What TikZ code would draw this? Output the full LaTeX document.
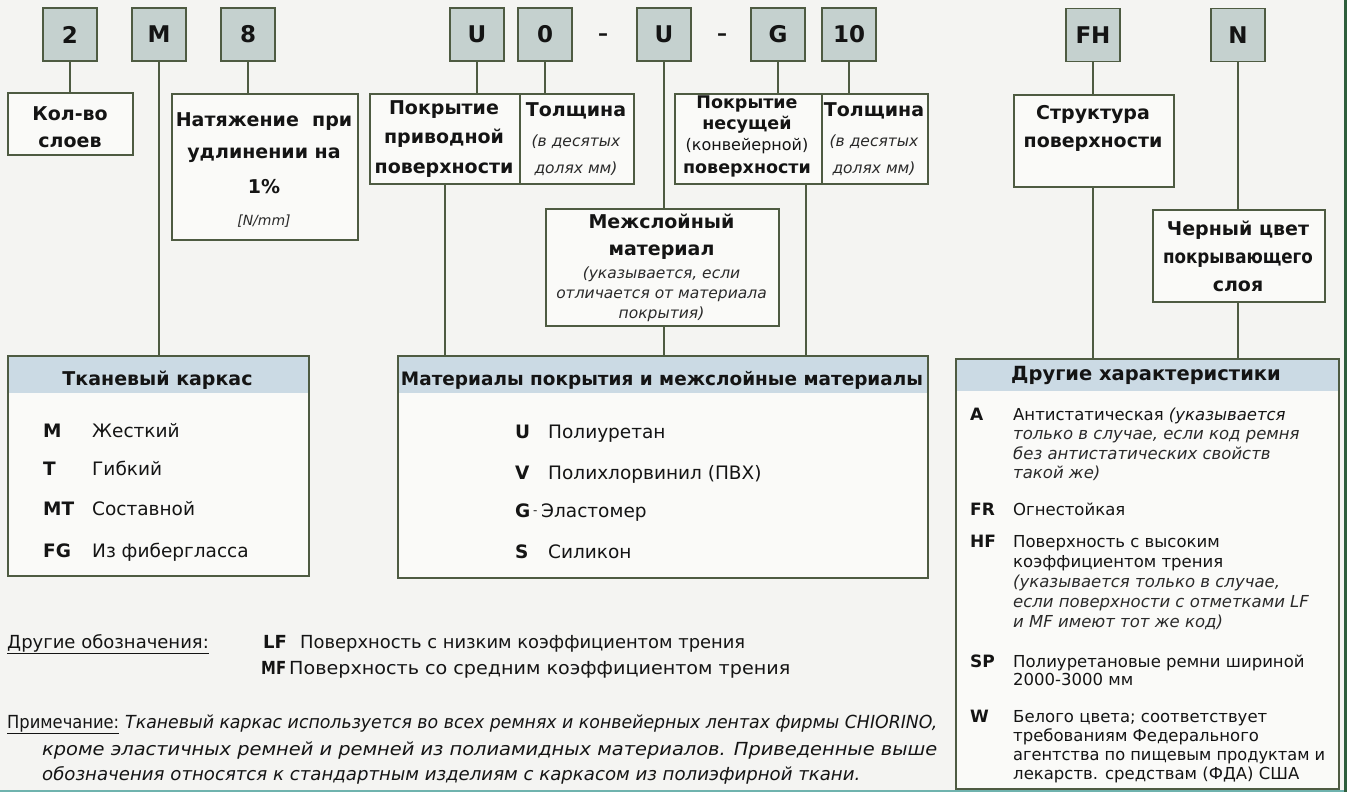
\documentclass[tikz,border=0pt]{standalone}
\usepackage{fontspec}
\setmainfont{DejaVu Sans}
\definecolor{bgc}{HTML}{F4F4F2}
\definecolor{boxc}{HTML}{FAFAF8}
\definecolor{codec}{HTML}{C5D1CF}
\definecolor{bordc}{HTML}{4E5B42}
\definecolor{hdrc}{HTML}{CBDAE4}
\definecolor{txtc}{HTML}{141414}
\definecolor{itc}{HTML}{2A2A2A}
\definecolor{framec}{HTML}{2E5E3C}
\definecolor{framebc}{HTML}{6FB3AE}
\newcommand\fs[2]{\fontsize{#1}{#2}\selectfont}
\newcommand\fitw[2]{\resizebox{#1}{\height}{#2}}
\begin{document}
\begin{tikzpicture}[x=1pt,y=-1pt,
  code/.style={draw=bordc, fill=codec, line width=1.5pt, minimum width=54pt, minimum height=53pt, inner sep=0pt, font=\bfseries\fs{23}{23}, text=txtc},
  box/.style={draw=bordc, fill=boxc, line width=1.5pt, inner sep=0pt, anchor=north west},
  hbox/.style={box, path picture={\fill[hdrc] (path picture bounding box.north west) rectangle ([yshift=-#1pt]path picture bounding box.north east);}},
  conn/.style={draw=bordc, line width=1.5pt},
  t/.style={inner sep=0pt, anchor=base, text=txtc},
  tl/.style={inner sep=0pt, anchor=base west, text=txtc},
  bt/.style={t, font=\bfseries\fs{19}{19}},
  it/.style={t, font=\itshape\fs{15.5}{15.5}, text=itc},
  dc/.style={tl, font=\bfseries\fs{17}{17}},
  dt/.style={tl, font=\fs{16.5}{16.5}},
  di/.style={tl, font=\itshape\fs{16.5}{16.5}, text=itc},
]
\path[use as bounding box, fill=bgc] (0,0) rectangle (1347,792);

% ---------- top code boxes
\node[code] (c2) at (70,34.5) {2};
\node[code] (cM) at (159,34.5) {M};
\node[code] (c8) at (248,34.5) {8};
\node[code] (cU1) at (477,34.5) {U};
\node[code] (c0) at (545,34.5) {0};
\node[t, font=\bfseries\fs{20}{20}] (d1) at (603,41) {–};
\node[code] (cU2) at (664,34.5) {U};
\node[t, font=\bfseries\fs{20}{20}] (d2) at (722,41) {–};
\node[code] (cG) at (778,34.5) {G};
\node[code] (c10) at (849,34.5) {10};
\node[code] (cFH) at (1093,35) {FH};
\node[code] (cN) at (1238,35) {N};

% ---------- second-row boxes
\node[box, minimum width=125pt, minimum height=62pt] (kol) at (7,92) {};
\node[box, minimum width=186pt, minimum height=146pt] (nat) at (171,93) {};
\node[box, minimum width=150pt, minimum height=90pt] (pokr1a) at (369,93) {};
\node[box, minimum width=114pt, minimum height=90pt] (pokr1b) at (519,93) {};
\node[box, minimum width=147pt, minimum height=90pt] (pokr2a) at (674,93) {};
\node[box, minimum width=106pt, minimum height=90pt] (pokr2b) at (821,93) {};
\node[box, minimum width=233pt, minimum height=117pt] (mezh) at (545,208) {};
\node[box, minimum width=160pt, minimum height=92pt] (str) at (1013,94) {};
\node[box, minimum width=172pt, minimum height=92pt] (cher) at (1152,209) {};

% ---------- lower boxes
\node[hbox=37, minimum width=301pt, minimum height=220pt] (tkan) at (7,355) {};
\node[hbox=37, minimum width=530pt, minimum height=222pt] (mat) at (397,355) {};
\node[hbox=32, minimum width=383pt, minimum height=430pt] (dr) at (955,358) {};

% ---------- connectors
\draw[conn] (c2.south) -- (c2.south |- kol.north);
\draw[conn] (cM.south) -- (cM.south |- tkan.north);
\draw[conn] (c8.south) -- (c8.south |- nat.north);
\draw[conn] (cU1.south) -- (cU1.south |- pokr1a.north);
\draw[conn] (c0.south) -- (c0.south |- pokr1b.north);
\draw[conn] (cU2.south) -- (cU2.south |- mezh.north);
\draw[conn] (cU2.south |- mezh.south) -- (cU2.south |- mat.north);
\draw[conn] (cG.south) -- (cG.south |- pokr2a.north);
\draw[conn] (c10.south) -- (c10.south |- pokr2b.north);
\draw[conn] (pokr1a.south) -- (pokr1a.south |- mat.north);
\draw[conn] ([xshift=132pt]pokr2a.south west) -- ([xshift=132pt]pokr2a.south west |- mat.north);
\draw[conn] (cFH.south) -- (cFH.south |- str.north);
\draw[conn] (cFH.south |- str.south) -- (cFH.south |- dr.north);
\draw[conn] (cN.south) -- (cN.south |- cher.north);
\draw[conn] (cN.south |- cher.south) -- (cN.south |- dr.north);

% ---------- box texts
\node[bt] (kol1) at (70,120) {Кол-во};
\node[bt] (kol2) at (70,147) {слоев};

\node[bt] (nat1) at (264,126) {Натяжение\ \ при};
\node[bt] (nat2) at (264,158) {удлинении на};
\node[bt] (nat3) at (264,193) {1\%};
\node[t, font=\itshape\fs{14}{14}, text=itc] (nat4) at (264,225) {[N/mm]};

\node[bt] (p1a1) at (444,114) {Покрытие};
\node[bt] (p1a2) at (444,143) {приводной};
\node[bt] (p1a3) at (444,173) {поверхности};
\node[bt] (p1b1) at (576,116) {Толщина};
\node[it] (p1b2) at (576,146) {(в десятых};
\node[it] (p1b3) at (576,173) {долях мм)};

\node[t, font=\bfseries\fs{17.5}{17.5}] (p2a1) at (747,108) {Покрытие};
\node[t, font=\bfseries\fs{17.5}{17.5}] (p2a2) at (747,129) {несущей};
\node[t, font=\fs{16}{16}] (p2a3) at (747,150) {(конвейерной)};
\node[t, font=\bfseries\fs{17.5}{17.5}] (p2a4) at (747,173) {поверхности};
\node[bt] (p2b1) at (874,116) {Толщина};
\node[it] (p2b2) at (874,146) {(в десятых};
\node[it] (p2b3) at (874,173) {долях мм)};

\node[bt] (mz1) at (661.5,228) {Межслойный};
\node[bt] (mz2) at (661.5,255) {материал};
\node[t, font=\itshape\fs{15.5}{15.5}, text=itc] (mz3) at (661.5,278) {(указывается, если};
\node[t, font=\itshape\fs{15.5}{15.5}, text=itc] (mz4) at (661.5,298) {отличается от материала};
\node[t, font=\itshape\fs{15.5}{15.5}, text=itc] (mz5) at (661.5,318) {покрытия)};

\node[bt] (st1) at (1093,119) {Структура};
\node[bt] (st2) at (1093,147) {поверхности};

\node[bt] (ch1) at (1238,235) {Черный цвет};
\node[bt] (ch2) at (1238,263) {\fitw{150pt}{покрывающего}};
\node[bt] (ch3) at (1238,291) {слоя};

% ---------- Тканевый каркас
\node[t, font=\bfseries\fs{19}{19}] (tkh) at (157.5,385) {Тканевый каркас};
\node[tl, font=\bfseries\fs{18.5}{18.5}] (tk1c) at (43,437) {M};
\node[tl, font=\fs{18.5}{18.5}] (tk1t) at (92,437) {Жесткий};
\node[tl, font=\bfseries\fs{18.5}{18.5}] (tk2c) at (43,475) {T};
\node[tl, font=\fs{18.5}{18.5}] (tk2t) at (92,475) {Гибкий};
\node[tl, font=\bfseries\fs{18.5}{18.5}] (tk3c) at (43,515) {MT};
\node[tl, font=\fs{18.5}{18.5}] (tk3t) at (92,515) {Составной};
\node[tl, font=\bfseries\fs{18.5}{18.5}] (tk4c) at (43,557) {FG};
\node[tl, font=\fs{18.5}{18.5}] (tk4t) at (92,557) {Из фибергласса};

% ---------- Материалы
\node[t, font=\bfseries\fs{18.5}{18.5}] (mth) at (662,385) {\fitw{522pt}{Материалы покрытия и межслойные материалы}};
\node[tl, font=\bfseries\fs{18.5}{18.5}] (mt1c) at (515,438) {U};
\node[tl, font=\fs{18.5}{18.5}] (mt1t) at (548,438) {Полиуретан};
\node[tl, font=\bfseries\fs{18.5}{18.5}] (mt2c) at (515,479) {V};
\node[tl, font=\fs{18.5}{18.5}] (mt2t) at (548,479) {Полихлорвинил (ПВХ)};
\node[tl, font=\bfseries\fs{18.5}{18.5}] (mt3c) at (515,517) {G};
\node[tl, font=\fs{12}{12}] (mt3d) at (533,514) {-};
\node[tl, font=\fs{18.5}{18.5}] (mt3t) at (541,517) {Эластомер};
\node[tl, font=\bfseries\fs{18.5}{18.5}] (mt4c) at (515,558) {S};
\node[tl, font=\fs{18.5}{18.5}] (mt4t) at (548,558) {Силикон};

% ---------- Другие характеристики
\node[t, font=\bfseries\fs{19.5}{19.5}] (drh) at (1146,380) {Другие характеристики};
\node[dc] (dAc) at (970,420) {A};
\node[dt] (dA1) at (1013,420) {Антистатическая \textit{(указывается}};
\node[di] (dA2) at (1013,439.5) {только в случае, если код ремня};
\node[di] (dA3) at (1013,459) {без антистатических свойств};
\node[di] (dA4) at (1013,478) {такой же)};
\node[dc] (dFRc) at (970,515) {FR};
\node[dt] (dFR1) at (1013,515) {Огнестойкая};
\node[dc] (dHFc) at (970,547) {HF};
\node[dt] (dHF1) at (1013,547) {Поверхность с высоким};
\node[dt] (dHF2) at (1013,567) {коэффициентом трения};
\node[di] (dHF3) at (1013,587) {(указывается только в случае,};
\node[di] (dHF4) at (1013,607) {если поверхности с отметками LF};
\node[di] (dHF5) at (1013,627) {и MF имеют тот же код)};
\node[dc] (dSPc) at (970,667) {SP};
\node[dt] (dSP1) at (1013,667) {Полиуретановые ремни шириной};
\node[dt] (dSP2) at (1013,685) {2000-3000 мм};
\node[dc] (dWc) at (970,722) {W};
\node[dt] (dW1) at (1013,722) {Белого цвета; соответствует};
\node[dt] (dW2) at (1013,741) {требованиям Федерального};
\node[dt] (dW3) at (1013,760) {\fitw{312pt}{агентства по пищевым продуктам и}};
\node[dt] (dW4) at (1013,779) {лекарств. средствам (ФДА) США};

% ---------- bottom notes
\node[tl, font=\fs{18}{18}] (oth) at (7,648) {\underline{Другие обозначения:}};
\node[tl, font=\bfseries\fs{18}{18}] (lfc) at (263,648) {LF};
\node[tl, font=\fs{18}{18}] (lft) at (300,648) {\fitw{445pt}{Поверхность с низким коэффициентом трения}};
\node[tl, font=\bfseries\fs{18}{18}] (mfc) at (261,674) {\fitw{25pt}{MF}};
\node[tl, font=\fs{18}{18}] (mft) at (289,674) {\fitw{501pt}{Поверхность со средним коэффициентом трения}};
\node[tl, font=\fs{18}{18}] (pr0) at (7,728) {\fitw{112pt}{\underline{Примечание:}}};
\node[tl, font=\itshape\fs{18}{18}] (pr1) at (125,728) {\fitw{812pt}{Тканевый каркас используется во всех ремнях и конвейерных лентах фирмы CHIORINO,}};
\node[tl, font=\itshape\fs{18}{18}] (pr2) at (42,755) {\fitw{895pt}{кроме эластичных ремней и ремней из полиамидных материалов. Приведенные выше}};
\node[tl, font=\itshape\fs{18}{18}] (pr3) at (42,780) {\fitw{818pt}{обозначения относятся к стандартным изделиям с каркасом из полиэфирной ткани.}};

% ---------- page frame
\draw[framebc, line width=2pt] (0,791) -- (1347,791);
\draw[framec, line width=3pt] (1345.5,0) -- (1345.5,792);
\end{tikzpicture}
\end{document}
